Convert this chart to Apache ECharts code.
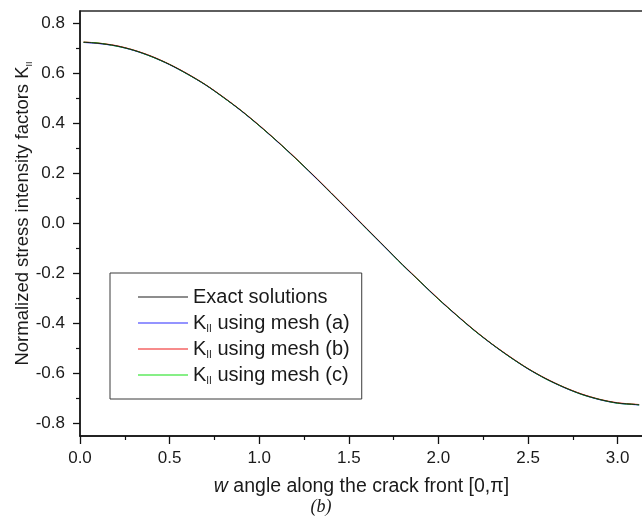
<!DOCTYPE html>
<html>
<head>
<meta charset="utf-8">
<script src="https://cdn.jsdelivr.net/npm/echarts@6/dist/echarts.min.js"></script>
<style>
  html, body { margin: 0; padding: 0; background: #fff; }
  #chart { width: 642px; height: 521px; }
</style>
</head>
<body>
<div id="chart"></div>
<script>
// Angle along the crack front (rad)
const angle = [0.02, 0.1, 0.2, 0.3, 0.4, 0.5, 0.6, 0.7, 0.8, 0.9, 1.0, 1.1, 1.2, 1.3, 1.4, 1.5,
  1.6, 1.7, 1.8, 1.9, 2.0, 2.1, 2.2, 2.3, 2.4, 2.5, 2.6, 2.7, 2.8, 2.9, 3.0, 3.1, 3.12];

// Normalized K_II values
const exactK = [0.725, 0.721, 0.711, 0.693, 0.668, 0.636, 0.598, 0.555, 0.505, 0.451, 0.392, 0.329,
  0.263, 0.194, 0.123, 0.051, -0.021, -0.093, -0.165, -0.234, -0.302, -0.366, -0.427, -0.483,
  -0.534, -0.581, -0.621, -0.655, -0.683, -0.704, -0.718, -0.724, -0.725];
const meshA = [0.724, 0.720, 0.710, 0.692, 0.667, 0.635, 0.597, 0.554, 0.504, 0.450, 0.391, 0.328,
  0.262, 0.193, 0.122, 0.050, -0.022, -0.094, -0.166, -0.235, -0.303, -0.367, -0.428, -0.484,
  -0.535, -0.582, -0.622, -0.656, -0.684, -0.705, -0.719, -0.725, -0.726];
const meshB = [0.726, 0.722, 0.712, 0.694, 0.669, 0.637, 0.599, 0.556, 0.506, 0.452, 0.393, 0.330,
  0.264, 0.195, 0.124, 0.052, -0.020, -0.092, -0.164, -0.233, -0.301, -0.365, -0.426, -0.482,
  -0.533, -0.580, -0.620, -0.654, -0.682, -0.703, -0.717, -0.723, -0.724];
const meshC = [0.725, 0.722, 0.710, 0.693, 0.667, 0.636, 0.597, 0.555, 0.504, 0.451, 0.391, 0.329,
  0.262, 0.194, 0.122, 0.051, -0.022, -0.093, -0.166, -0.234, -0.303, -0.366, -0.428, -0.483,
  -0.535, -0.581, -0.622, -0.655, -0.684, -0.704, -0.719, -0.724, -0.726];

// Tick positions
const xMajor = [0, 0.5, 1.0, 1.5, 2.0, 2.5, 3.0];
const xMinor = [0.25, 0.75, 1.25, 1.75, 2.25, 2.75];
const yMajor = [-0.8, -0.6, -0.4, -0.2, 0, 0.2, 0.4, 0.6, 0.8];
const yMinor = [-0.7, -0.5, -0.3, -0.1, 0.1, 0.3, 0.5, 0.7];

const seriesNames = ['Exact solutions', 'meshA', 'meshB', 'meshC'];
const legendText = {
  'Exact solutions': 'Exact solutions',
  meshA: 'K{sub|II} using mesh (a)',
  meshB: 'K{sub|II} using mesh (b)',
  meshC: 'K{sub|II} using mesh (c)'
};
const colors = ['#1c1c1c', '#2a2aff', '#f01818', '#10e010'];
const seriesValues = [exactK, meshA, meshB, meshC];
// exact solution is drawn over the mesh results
const zOrder = [6, 3, 4, 5];

const FONT = 'Liberation Sans, Arial, sans-serif';
const TXT = '#1a1a1a';

const chart = echarts.init(document.getElementById('chart'), null, { renderer: 'canvas' });

const option = {
  backgroundColor: '#ffffff',
  animation: false,
  grid: {
    left: 80, top: 11, width: 563, height: 425,
    containLabel: false, outerBoundsMode: 'none',
    show: true, borderColor: '#2a2a2a', borderWidth: 1.3, backgroundColor: 'transparent'
  },
  legend: {
    orient: 'vertical',
    left: 110, top: 273,
    data: seriesNames,
    backgroundColor: '#fff',
    borderColor: '#3a3a3a', borderWidth: 1,
    padding: [13, 12, 13, 28],
    itemGap: 4,
    itemWidth: 50, itemHeight: 14,
    icon: 'path://M0,7L50,7L50,8L0,8Z',
    formatter: name => legendText[name],
    textStyle: {
      fontFamily: FONT, fontSize: 20, color: TXT, lineHeight: 22,
      rich: {
        sub: { fontFamily: FONT, fontSize: 10, color: TXT, lineHeight: 5, verticalAlign: 'bottom' }
      }
    }
  },
  xAxis: [{
    type: 'value', min: 0, max: Math.PI,
    position: 'bottom',
    name: '{i|w} angle along the crack front [0,π]',
    nameLocation: 'middle', nameGap: 41, nameMoveOverlap: false,
    nameTextStyle: {
      fontFamily: FONT, fontSize: 19.5, color: TXT,
      rich: { i: { fontFamily: FONT, fontSize: 19.5, fontStyle: 'italic', color: TXT } }
    },
    axisLine: { show: true, onZero: false, lineStyle: { color: '#111', width: 1.5 } },
    axisTick: { show: true, customValues: xMajor, length: 8, lineStyle: { color: '#111', width: 1.3 } },
    axisLabel: {
      customValues: xMajor, formatter: v => v.toFixed(1),
      fontFamily: FONT, fontSize: 17, color: TXT, margin: 14
    },
    splitLine: { show: false }
  }, {
    type: 'value', min: 0, max: Math.PI,
    position: 'bottom',
    axisLine: { show: false, onZero: false },
    axisTick: { show: true, customValues: xMinor, length: 4, lineStyle: { color: '#111', width: 1.2 } },
    axisLabel: { show: false },
    splitLine: { show: false }
  }],
  yAxis: [{
    type: 'value', min: -0.85, max: 0.85,
    position: 'left',
    name: 'Normalized stress intensity factors K{sub|II}',
    nameLocation: 'middle', nameGap: 46, nameRotate: 90, nameMoveOverlap: false,
    nameTextStyle: {
      fontFamily: FONT, fontSize: 18.5, color: TXT, lineHeight: 22,
      padding: [0, 0, 0, 20],
      rich: { sub: { fontFamily: FONT, fontSize: 9, color: TXT, lineHeight: 5, verticalAlign: 'bottom' } }
    },
    axisLine: { show: true, onZero: false, lineStyle: { color: '#111', width: 1.5 } },
    axisTick: { show: true, customValues: yMajor, length: 7, lineStyle: { color: '#111', width: 1.3 } },
    axisLabel: {
      customValues: yMajor, formatter: v => v.toFixed(1),
      fontFamily: FONT, fontSize: 17, color: TXT, margin: 15
    },
    splitLine: { show: false }
  }, {
    type: 'value', min: -0.85, max: 0.85,
    position: 'left',
    axisLine: { show: false, onZero: false },
    axisTick: { show: true, customValues: yMinor, length: 4, lineStyle: { color: '#111', width: 1.2 } },
    axisLabel: { show: false },
    splitLine: { show: false }
  }],
  series: seriesNames.map((name, i) => ({
    name: name,
    type: 'line',
    xAxisIndex: 0, yAxisIndex: 0,
    data: angle.map((a, j) => [a, seriesValues[i][j]]),
    showSymbol: false, symbol: 'none',
    smooth: 0.3,
    color: colors[i],
    lineStyle: { color: colors[i], width: 1 },
    z: zOrder[i]
  })),
  graphic: [{
    type: 'text',
    left: 'center', top: 498,
    style: {
      text: '(b)',
      fontFamily: 'Liberation Serif, Times New Roman, serif',
      fontStyle: 'italic', fontSize: 18, fill: '#1a1a1a'
    }
  }]
};

chart.setOption(option);
</script>
</body>
</html>
